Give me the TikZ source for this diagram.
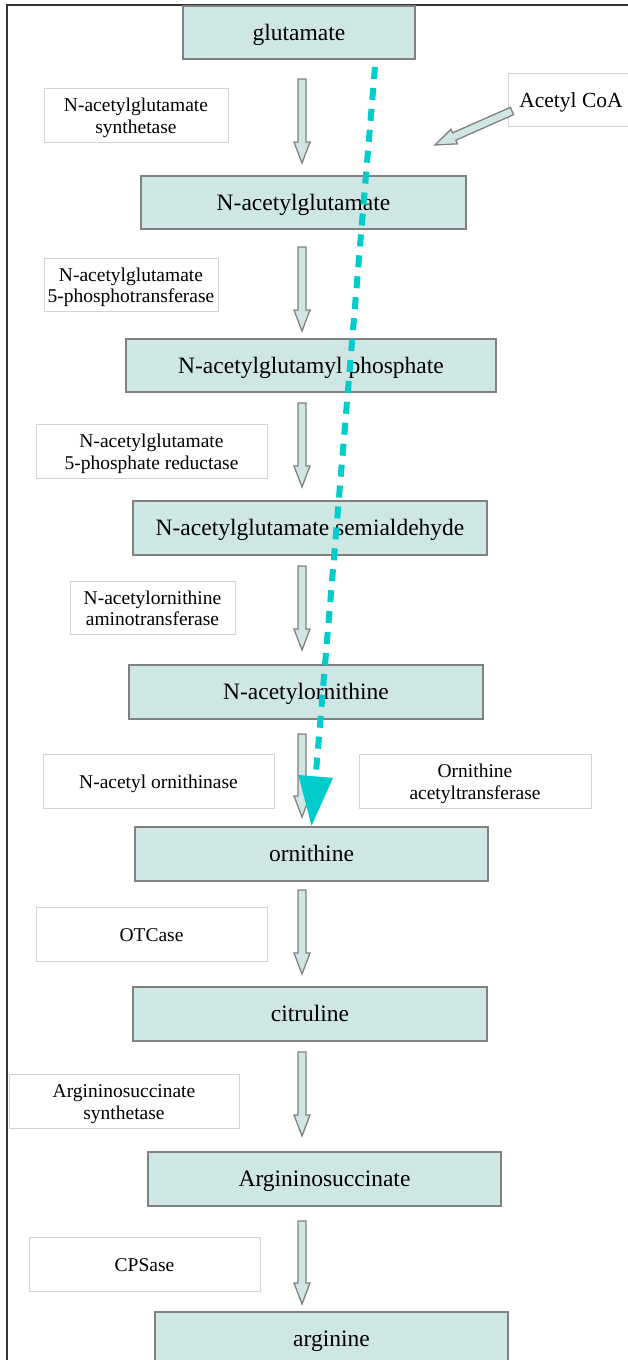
\documentclass[tikz,border=0pt]{standalone}
\usepackage{fontspec}
\setmainfont{Liberation Serif}
\usetikzlibrary{calc,arrows.meta}
\definecolor{boxfill}{RGB}{207,231,228}
\definecolor{boxline}{RGB}{128,128,128}
\definecolor{lablin}{RGB}{210,210,210}
\definecolor{cyanish}{RGB}{0,204,204}
\tikzset{
  mainbox/.style={draw=boxline, fill=boxfill, line width=1.5pt, inner sep=0pt,
    text height=16pt, text depth=1pt,
    font=\fontsize{23.5}{27}\selectfont},
  labbox/.style={draw=lablin, fill=white, line width=1pt, inner sep=0pt,
    text height=15pt, text depth=0pt,
    font=\fontsize{19.5}{21.7}\selectfont},
  labboxtwo/.style={labbox, text height=36.6pt, text depth=0pt},
  blockarr/.style={draw=boxline, fill=boxfill, line width=1.3pt, line join=miter},
  frameline/.style={draw=black!80, line width=1.5pt},
  cyandash/.style={draw=cyanish, line width=6pt, dash pattern=on 12pt off 9pt,
    -{Triangle[width=33pt,length=50pt]}}
}
\newcommand\twoline[2]{\begin{tabular}[b]{@{}c@{}}#1\\#2\end{tabular}}
\newcommand\blockarrow[2]{%
  \coordinate (hb) at ($(#2)!21pt!(#1)$);
  \draw[blockarr] ($(#1)!4pt!90:(#2)$) -- ($(hb)!4pt!90:(#2)$) -- ($(hb)!8pt!90:(#2)$) -- (#2)
    -- ($(hb)!8pt!-90:(#2)$) -- ($(hb)!4pt!-90:(#2)$) -- ($(#1)!4pt!-90:(#2)$) -- cycle;}
\begin{document}
\begin{tikzpicture}[x=1pt,y=-1pt]
\useasboundingbox (0,0) rectangle (628,1360);
% frame
\coordinate (fb) at (7,1362);
\coordinate (fc) at (7,5);
\coordinate (fr) at (630,5);
\draw[frameline] (fb) -- (fc) -- (fr);
% main boxes
\node[mainbox, minimum width=232pt, minimum height=53pt] (glu)  at (299,32.5) {glutamate};
\node[mainbox, minimum width=325pt, minimum height=53pt] (nag)  at (303.5,202.5) {N-acetylglutamate};
\node[mainbox, minimum width=370pt, minimum height=53pt] (nagp) at (311,365.5) {N-acetylglutamyl phosphate};
\node[mainbox, minimum width=354pt, minimum height=54pt] (nags) at (310,528) {N-acetylglutamate semialdehyde};
\node[mainbox, minimum width=354pt, minimum height=54pt] (nao)  at (306,692) {N-acetylornithine};
\node[mainbox, minimum width=353pt, minimum height=54pt] (orn)  at (311.5,854) {ornithine};
\node[mainbox, minimum width=354pt, minimum height=54pt] (cit)  at (310,1014) {citruline};
\node[mainbox, minimum width=353pt, minimum height=54pt] (asa)  at (324.5,1179) {Argininosuccinate};
\node[mainbox, minimum width=353pt, minimum height=54pt] (arg)  at (331.5,1339) {arginine};
% label boxes
\node[labboxtwo, minimum width=184pt, minimum height=54pt] (l1) at (136,115) {\twoline{N-acetylglutamate}{synthetase}};
\node[labboxtwo, minimum width=174pt, minimum height=53pt] (l2) at (131,284.5) {\twoline{N-acetylglutamate}{5-phosphotransferase}};
\node[labboxtwo, minimum width=231pt, minimum height=54pt] (l3) at (151.5,451) {\twoline{N-acetylglutamate}{5-phosphate reductase}};
\node[labboxtwo, minimum width=165pt, minimum height=53pt] (l4) at (152.5,607.5) {\twoline{N-acetylornithine}{aminotransferase}};
\node[labbox, minimum width=231pt, minimum height=54pt] (l5) at (158.5,781) {N-acetyl ornithinase};
\node[labboxtwo, minimum width=232pt, minimum height=54pt] (l6) at (475,781) {\twoline{Ornithine}{acetyltransferase}};
\node[labbox, minimum width=231pt, minimum height=54pt] (l7) at (151.5,934) {OTCase};
\node[labboxtwo, minimum width=230pt, minimum height=54pt] (l8) at (124,1101) {\twoline{Argininosuccinate}{synthetase}};
\node[labbox, minimum width=231pt, minimum height=54pt] (l9) at (144.5,1264) {CPSase};
\node[labbox, minimum width=132pt, minimum height=53pt, font=\fontsize{21.5}{24}\selectfont] (acoa) at (574,99.5) {\hspace*{-6pt}Acetyl CoA};
% block arrow end points
\coordinate (a1s) at (302,79);   \coordinate (a1e) at (302,163);
\coordinate (a2s) at (302,247);  \coordinate (a2e) at (302,331);
\coordinate (a3s) at (302,403);  \coordinate (a3e) at (302,487);
\coordinate (a4s) at (302,566);  \coordinate (a4e) at (302,650);
\coordinate (a5s) at (302,734);  \coordinate (a5e) at (302,817);
\coordinate (a6s) at (302,890);  \coordinate (a6e) at (302,974);
\coordinate (a7s) at (302,1052); \coordinate (a7e) at (302,1136);
\coordinate (a8s) at (302,1221); \coordinate (a8e) at (302,1304);
\coordinate (acs) at (512,111);  \coordinate (ace) at (435,145);
\blockarrow{a1s}{a1e}
\blockarrow{a2s}{a2e}
\blockarrow{a3s}{a3e}
\blockarrow{a4s}{a4e}
\blockarrow{a5s}{a5e}
\blockarrow{a6s}{a6e}
\blockarrow{a7s}{a7e}
\blockarrow{a8s}{a8e}
\blockarrow{acs}{ace}
% cyan dashed arrow
\coordinate (cs) at (375,67);
\draw[cyandash] (cs) -- (orn.north);
\end{tikzpicture}
\end{document}
